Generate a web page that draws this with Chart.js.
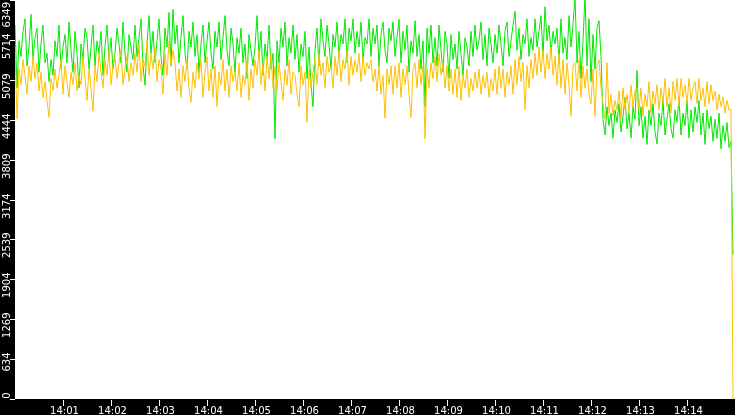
<!DOCTYPE html>
<html>
<head>
<meta charset="utf-8">
<script src="https://cdn.jsdelivr.net/npm/chart.js@4/dist/chart.umd.min.js"></script>
<style>
  html, body { margin: 0; padding: 0; background: #fff; }
  #wrap { width: 735px; height: 415px; }
</style>
</head>
<body>
<div id="wrap"><canvas id="rates"></canvas></div>
<script>
// samples every 2.5 s starting at 14:00:00
const sampleStep = 2.5;
const yMax = 6349;

const yTickLabels = ["0", "634", "1269", "1904", "2539", "3174", "3809", "4444", "5079", "5714", "6349"];
const xTickSeconds = [60, 120, 180, 240, 300, 360, 420, 480, 540, 600, 660, 720, 780, 840];
const xTickLabels = ["14:01", "14:02", "14:03", "14:04", "14:05", "14:06", "14:07",
                     "14:08", "14:09", "14:10", "14:11", "14:12", "14:13", "14:14"];

const greenValues = [
  5950, 4950, 5700, 5450, 5850, 6050, 5300, 5600, 6120, 5400,
  5750, 5900, 5200, 5650, 5950, 5350, 5500, 5050, 5400, 5150,
  5700, 5450, 5950, 5250, 5600, 5800, 5350, 6000, 5550, 5200,
  5850, 5500, 4950, 5650, 5400, 5900, 5750, 5250, 5600, 5950,
  5300, 5700, 5500, 5850, 5150, 5600, 5950, 5400, 5750, 5250,
  5500, 5900, 5650, 5350, 6000, 5500, 5200, 5800, 5600, 5400,
  5950, 5450, 5750, 6050, 5300, 4990, 5650, 6100, 5500, 5850,
  5350, 5700, 6050, 5450, 5150, 5900, 5600, 6150, 5300, 6200,
  5650, 5950, 5350, 5750, 6100, 5500, 5250, 5850, 5600, 6000,
  5450, 5800, 5200, 5650, 5950, 5350, 5700, 6000, 5500, 5250,
  5850, 5600, 6000, 5400, 5750, 6100, 5550, 5300, 5900, 5650,
  5200, 5750, 5500, 5900, 5350, 5650, 5100, 5800, 5550, 5300,
  5600, 6100, 5450, 5850, 5150, 5650, 5400, 5950, 5250, 5500,
  4140, 5700, 5350, 5900, 5600, 6000, 5300, 5750, 5500, 5950,
  5400, 5800, 5200, 5650, 5450, 5850, 5100, 5600, 5000, 4650,
  5550, 5900, 5300, 6050, 5700, 5450, 5950, 5650, 5250, 5800,
  5600, 6000, 5450, 5800, 5650, 6050, 5350, 5900, 5700, 6050,
  5500, 5850, 5600, 6000, 5400, 5750, 5650, 6050, 5450, 5900,
  5650, 5950, 5300, 5800, 6000, 5550, 5350, 5900, 5700, 6000,
  5450, 5750, 6040, 5350, 5850, 5550, 5950, 5200, 5700, 5500,
  6020, 5450, 5800, 5250, 5700, 4650, 5900, 5500, 5950, 5350,
  5750, 5300, 5950, 5550, 5200, 5850, 5650, 5100, 5800, 5400,
  5650, 5250, 5850, 5500, 5150, 5750, 5600, 5300, 5850, 5450,
  5950, 5550, 5700, 6000, 5400, 5800, 5300, 5900, 5650, 5350,
  5800, 5500, 5950, 5650, 5300, 5850, 6000, 5450, 5700, 5950,
  6170, 5550, 5900, 5400, 5800, 5650, 6050, 5450, 5750, 5550,
  6050, 5600, 5850, 6100, 5450, 6240, 5700, 5950, 5500, 5850,
  5650, 5900, 5350, 6050, 5500, 5750, 5400, 6100, 5600, 5950,
  6420, 5350, 5850, 5100, 5700, 6420, 5300, 6050, 5050, 5800,
  5250, 5900, 6020, 5450,
  4450, 4200, 4650, 4350, 4550, 4150,
  4600, 4400, 4700, 4250, 4500, 4800, 4300, 4550, 4150, 4650,
  4450, 5230, 4350, 4650, 4150, 4500, 4050, 4600, 4350, 4700,
  4250, 4060, 4550, 4350, 4750, 4200, 4450, 4700, 4300, 4150,
  4600, 4400, 4800, 4200, 4550, 4350, 4750, 4150, 4600, 4250,
  4650, 4400, 4750, 4200, 4550, 4050, 4600, 4300, 4500, 4100,
  4450, 4150, 4550, 3980, 4350, 4100, 4400, 4000, 4100, 2290
];

const orangeValues = [
  5550, 4460, 5250, 5000, 5400, 5150, 4850, 5300, 5050, 5450,
  5100, 5350, 4900, 5200, 4800, 5050, 4750, 4480, 5100, 4900,
  5250, 4950, 5150, 5400, 4850, 5300, 5050, 4800, 5200, 5000,
  5350, 4900, 5150, 5000, 5450, 5100, 4750, 5250, 4950, 4580,
  5300, 5050, 5500, 5200, 4950, 5400, 5150, 5550, 5000, 5300,
  5450, 5100, 5350, 5550, 5000, 5250, 5450, 5050, 5350, 5150,
  5500, 5200, 5650, 5050, 5400, 5300, 5700, 5150, 5500, 5250,
  5600, 5050, 5400, 5250, 4850, 5500, 5150, 5700, 5300, 5550,
  5350, 4900, 5250, 4800, 5300, 5050, 5400, 4950, 4720, 5200,
  4950, 5350, 5100, 5400, 4800, 5200, 5450, 4900, 5250, 4800,
  5300, 4650, 5200, 5000, 5400, 4900, 5250, 4800, 5300, 5050,
  5200, 4900, 5350, 4800, 5150, 5000, 5400, 4750, 5250, 4950,
  5400, 5150, 5550, 5000, 5350, 4900, 5450, 5100, 5500, 4950,
  5300, 4900, 5350, 5050, 4750, 5250, 5000, 5400, 4850, 5200,
  5150, 4850, 4650, 5300, 5000, 5200, 4400, 5250, 4950, 5200,
  5400, 5000, 5500, 5150, 5350, 4950, 5450, 5200, 5300, 4950,
  5450, 5150, 5550, 5050, 5400, 5250, 5550, 5000, 5450, 5150,
  5400, 5200, 5500, 5050, 5450, 5150, 5350, 5250, 5400, 5050,
  5250, 4900, 5300, 4850, 5150, 4470, 5250, 5000, 5300, 4850,
  5300, 4950, 5350, 4800, 5250, 5000, 5300, 4850, 4480, 5250,
  5350, 4950, 5400, 5000, 5300, 4140, 5250, 4950, 5350, 5100,
  5450, 5050, 5500, 5150, 5350, 4950, 5300, 4900, 5250, 4850,
  5250, 4800, 5300, 4750, 5150, 4950, 5250, 4800, 5100, 4900,
  5200, 4950, 5250, 4850, 5150, 4950, 5200, 4800, 5100, 4900,
  5250, 4850, 5300, 4950, 5250, 4800, 5200, 5000, 5300, 4850,
  5400, 5000, 5450, 5050, 5350, 4600, 5300, 4950, 5400, 5100,
  5500, 5150, 5600, 5200, 5550, 5100, 5500, 5250, 5600, 5150,
  5450, 5000, 5500, 4950, 5400, 4850, 5350, 5000, 4500, 5300,
  5350, 4900, 5400, 4800, 5300, 4950, 5250, 4850, 4700, 5250,
  4500, 5300, 5400, 4950,
  4700, 4450, 5350, 4550, 4850, 4500,
  4750, 4600, 4900, 4450, 4950, 4600, 4850, 4550, 5000, 4650,
  4900, 4950, 4600, 4950, 4500, 4850, 4650, 5050, 4550, 4900,
  4700, 5000, 4600, 4950, 4700, 5100, 4650, 4950, 4550, 5050,
  4750, 5100, 4650, 5100, 4800, 5000, 4700, 5100, 4750, 4950,
  5050, 4700, 5100, 4750, 4950, 4650, 5050, 4700, 5000, 4750,
  4900, 4600, 4850, 4650, 4800, 4550, 4750, 4600, 4600, 0
];

function toPoints(values) {
    return values.map((v, i) => ({ x: i * sampleStep, y: v }));
}

// black axis strips with white ticks, y labels rotated
const axisStrips = {
    id: "axisStrips",
    afterDraw(chart) {
        const ctx = chart.ctx;
        const area = chart.chartArea;
        const xs = chart.scales.x;
        const ys = chart.scales.y;
        ctx.save();
        ctx.fillStyle = "#000";
        ctx.fillRect(0, 0, area.left, chart.height);
        ctx.fillRect(0, area.bottom, chart.width, chart.height - area.bottom);

        ctx.strokeStyle = "#fff";
        ctx.fillStyle = "#fff";
        ctx.lineWidth = 1;
        ctx.font = '10px "DejaVu Sans"';

        yTickLabels.forEach((label, k) => {
            const py = Math.round(ys.getPixelForValue(k * yMax / 10)) + 0.5;
            ctx.beginPath();
            ctx.moveTo(area.left - 5, py);
            ctx.lineTo(area.left, py);
            ctx.stroke();
            ctx.save();
            ctx.translate(9.5, Math.max(py - 7, 2));
            ctx.rotate(-Math.PI / 2);
            ctx.textAlign = "right";
            ctx.textBaseline = "alphabetic";
            ctx.fillText(label, 0, 0);
            ctx.restore();
        });

        ctx.textAlign = "center";
        ctx.textBaseline = "alphabetic";
        xTickLabels.forEach((label, k) => {
            const px = Math.round(xs.getPixelForValue(xTickSeconds[k])) + 0.5;
            ctx.beginPath();
            ctx.moveTo(px, area.bottom + 1);
            ctx.lineTo(px, area.bottom + 7);
            ctx.stroke();
            ctx.fillText(label, px + 1, chart.height - 1);
        });
        ctx.restore();
    }
};

new Chart(document.getElementById("rates").getContext("2d"), {
    type: "line",
    data: {
        datasets: [
            {
                label: "orange",
                data: toPoints(orangeValues),
                borderColor: "#ffc000",
                borderWidth: 1,
                pointRadius: 0,
                tension: 0,
                order: 0,
            },
            {
                label: "green",
                data: toPoints(greenValues),
                borderColor: "#00e800",
                borderWidth: 1,
                pointRadius: 0,
                tension: 0,
                order: 1,
            },
        ],
    },
    options: {
        responsive: true,
        maintainAspectRatio: false,
        animation: false,
        layout: { padding: 0 },
        plugins: {
            legend: { display: false },
            tooltip: { enabled: false },
        },
        scales: {
            x: {
                type: "linear",
                min: 0,
                max: 900,
                ticks: { display: false },
                grid: { display: false },
                border: { display: false },
                afterFit(scale) { scale.height = 16; },
            },
            y: {
                min: 0,
                max: yMax,
                ticks: { display: false },
                grid: { display: false },
                border: { display: false },
                afterFit(scale) { scale.width = 15; },
            },
        },
    },
    plugins: [axisStrips],
});
</script>
</body>
</html>
